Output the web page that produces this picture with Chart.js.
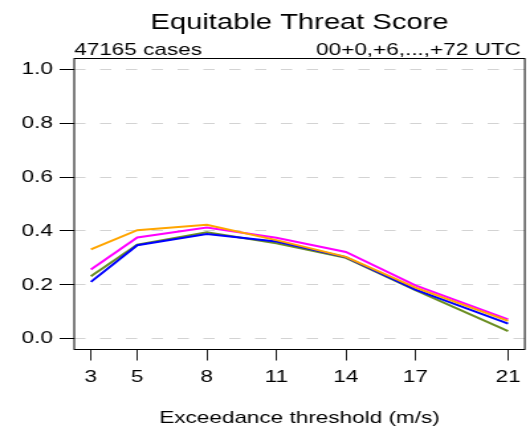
<!DOCTYPE html>
<html>
<head>
<meta charset="utf-8">
<script src="https://cdn.jsdelivr.net/npm/chart.js@4/dist/chart.umd.min.js"></script>
<style>
  html, body { margin: 0; padding: 0; background: #ffffff; overflow: hidden; }
  #wrap { width: 400px; height: 430px; transform: scaleX(1.325); transform-origin: 0 0; }
  canvas { display: block; }
</style>
</head>
<body>
<div id="wrap"><canvas id="c" width="400" height="430" style="width:400px;height:430px"></canvas></div>
<script>
// ---- data ----
const thresholds = [3, 5, 8, 11, 14, 17, 21];
const etsOrange  = [0.332, 0.403, 0.423, 0.366, 0.304, 0.190, 0.066];
const etsMagenta = [0.257, 0.376, 0.413, 0.375, 0.322, 0.198, 0.072];
const etsBlue    = [0.211, 0.347, 0.389, 0.361, 0.303, 0.182, 0.056];
const etsGreen   = [0.232, 0.349, 0.395, 0.354, 0.300, 0.180, 0.028];
const xTicks = [3, 5, 8, 11, 14, 17, 21];
const yTicks = [0.0, 0.2, 0.4, 0.6, 0.8, 1.0];
const titleText = 'Equitable Threat Score';
const leftSub = '47165 cases';
const rightSub = '00+0,+6,...,+72 UTC';
const xLabel = 'Exceedance threshold (m/s)';

const FONT = '"Liberation Sans", Arial, Helvetica, sans-serif';

function pts(arr) { return thresholds.map((t, i) => ({ x: t, y: arr[i] })); }

const series = [
  { data: etsOrange,  color: '#FFA500' },
  { data: etsMagenta, color: '#FF00FF' },
  { data: etsBlue,    color: '#0000FF' },
  { data: etsGreen,   color: '#6B8E23' }
];

const textPlugin = {
  id: 'texts',
  afterDraw(chart) {
    const { ctx, chartArea } = chart;
    ctx.save();
    ctx.fillStyle = '#000';
    ctx.textBaseline = 'alphabetic';
    ctx.font = '22px ' + FONT;
    ctx.textAlign = 'center';
    ctx.fillText(titleText, (chartArea.left + chartArea.right) / 2, 29);
    ctx.font = '17px ' + FONT;
    ctx.textAlign = 'left';
    ctx.fillText(leftSub, chartArea.left, 55);
    ctx.textAlign = 'right';
    ctx.fillText(rightSub, chartArea.right - 3, 55);
    ctx.restore();
  }
};

const framePlugin = {
  id: 'frame',
  afterDatasetsDraw(chart) {
    const { ctx, chartArea } = chart;
    ctx.save();
    ctx.strokeStyle = '#000';
    ctx.lineWidth = 1;
    ctx.strokeRect(chartArea.left, chartArea.top, chartArea.right - chartArea.left, chartArea.bottom - chartArea.top);
    ctx.restore();
  }
};

new Chart(document.getElementById('c'), {
  type: 'line',
  data: {
    datasets: series.map(s => ({
      data: pts(s.data),
      borderColor: s.color,
      backgroundColor: s.color,
      borderWidth: 2,
      pointRadius: 0,
      tension: 0,
      fill: false
    }))
  },
  options: {
    responsive: false,
    animation: false,
    devicePixelRatio: 1,
    layout: { padding: { top: 58.5, right: 2, left: 0, bottom: 0 } },
    plugins: { legend: { display: false }, tooltip: { enabled: false }, title: { display: false } },
    scales: {
      x: {
        type: 'linear',
        min: 2.28,
        max: 21.72,
        afterBuildTicks(scale) { scale.ticks = xTicks.map(v => ({ value: v })); },
        afterFit(scale) { scale.height = 80.5; },
        ticks: {
          autoSkip: false,
          maxRotation: 0,
          color: '#000',
          font: { family: FONT, size: 17 },
          padding: 7,
          callback: v => String(v)
        },
        grid: {
          drawOnChartArea: false,
          drawTicks: true,
          tickLength: 11,
          tickColor: '#222',
          tickWidth: 1
        },
        border: { display: false },
        title: {
          display: true,
          text: xLabel,
          color: '#000',
          font: { family: FONT, size: 17 },
          padding: { top: 0, bottom: 1 }
        }
      },
      y: {
        type: 'linear',
        min: -0.04,
        max: 1.04,
        afterBuildTicks(scale) { scale.ticks = yTicks.map(v => ({ value: v })); },
        afterFit(scale) { scale.width = 56; },
        ticks: {
          color: '#000',
          font: { family: FONT, size: 17 },
          padding: 5,
          callback: v => Number(v).toFixed(1)
        },
        grid: {
          drawOnChartArea: true,
          color: '#d3d3d3',
          lineWidth: 1,
          tickLength: 11,
          tickColor: '#000',
          tickWidth: 1,
          tickBorderDash: []
        },
        border: { display: false, dash: [8.5, 11] }
      }
    }
  },
  plugins: [textPlugin, framePlugin]
});
</script>
</body>
</html>
